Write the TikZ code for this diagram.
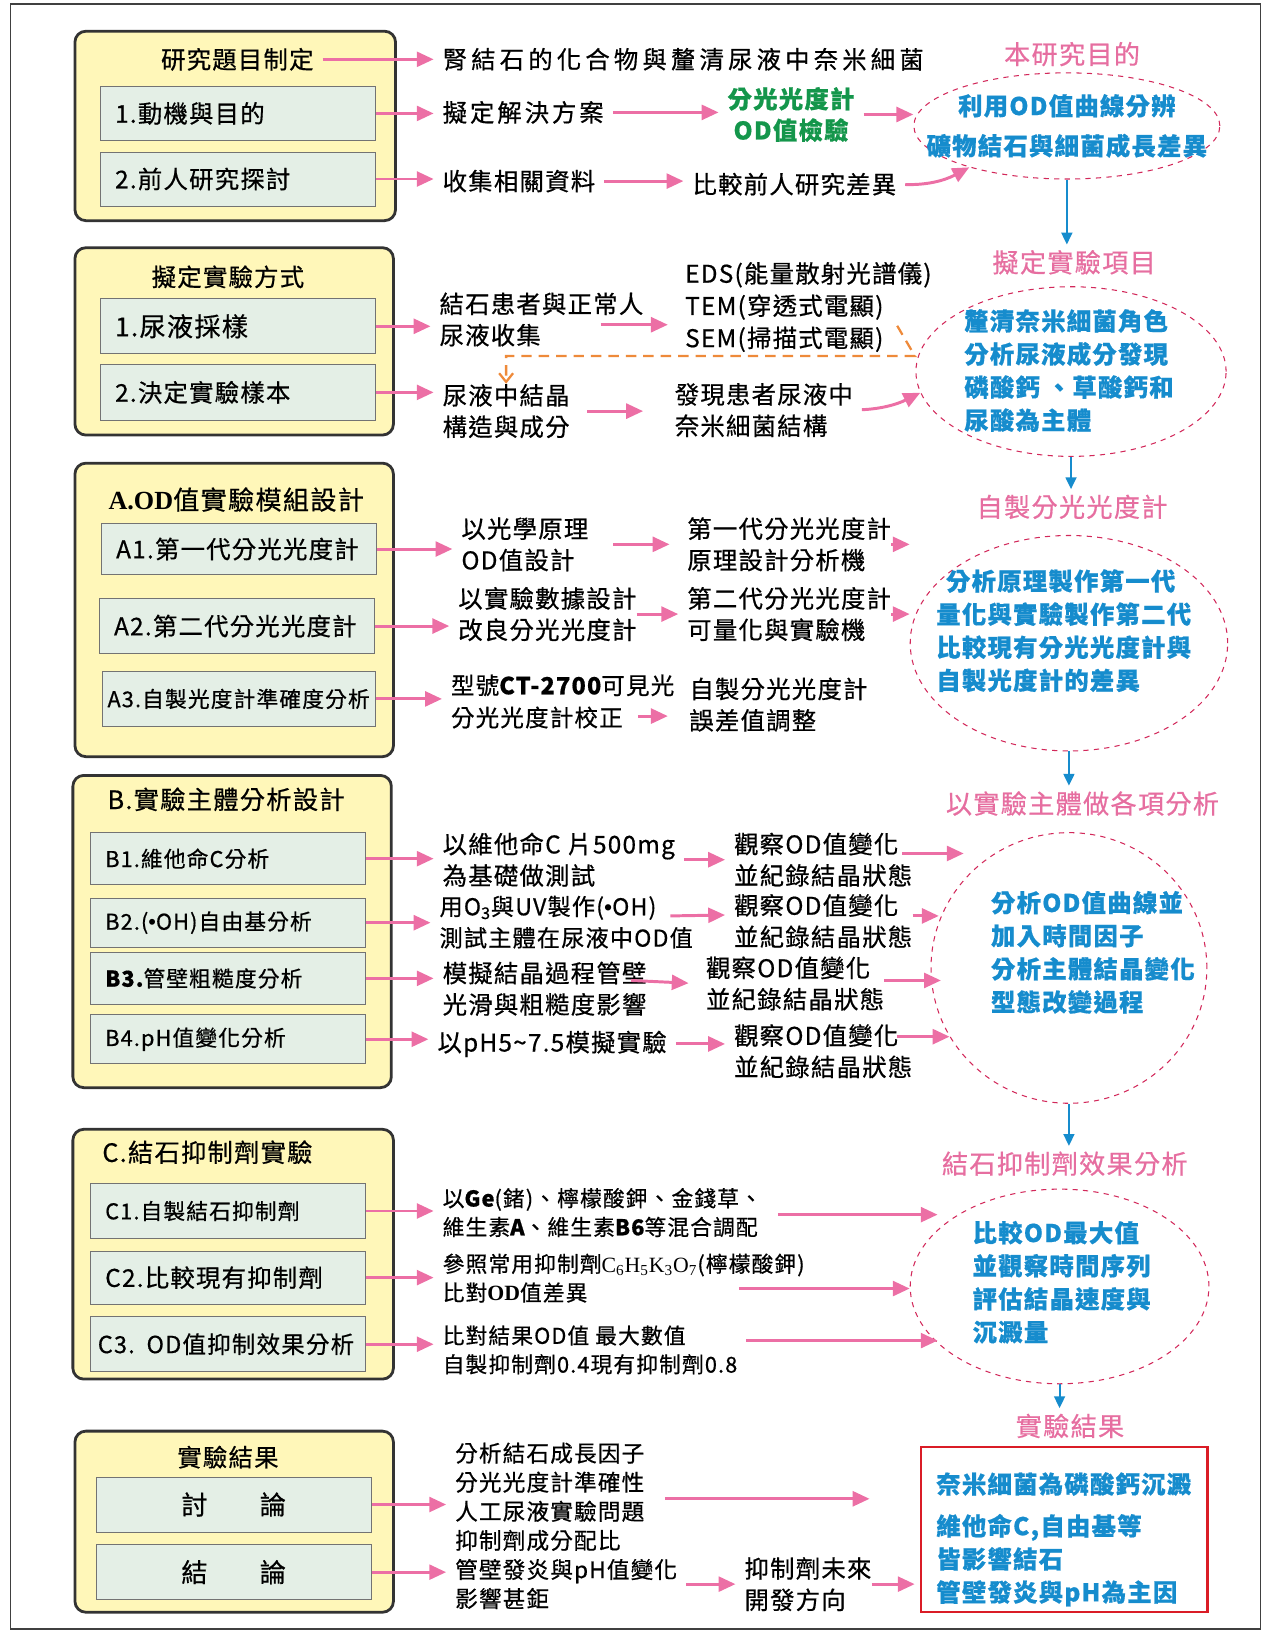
\documentclass[tikz,border=0pt]{standalone}
\usepackage{fontspec}
\setmainfont{Noto Sans CJK TC}[LetterSpace=5, FakeBold=0.6]
\newfontfamily\serifbf{Liberation Serif}
\newfontfamily\latinsans{Liberation Sans}
\usetikzlibrary{arrows.meta,shapes.geometric,calc}

\definecolor{arrowpink}{RGB}{236,111,165}
\definecolor{titlepink}{RGB}{230,110,160}
\definecolor{ovalred}{RGB}{210,40,90}
\definecolor{textblue}{RGB}{22,140,205}
\definecolor{okgreen}{RGB}{20,150,75}
\definecolor{grpyellow}{RGB}{255,247,185}
\definecolor{subgreen}{RGB}{228,239,230}
\definecolor{dashorange}{RGB}{238,138,58}
\definecolor{boxred}{RGB}{218,28,38}

\newcommand\szA{\fontsize{14}{18}\selectfont}
\newcommand\szB{\fontsize{12.5}{16.5}\selectfont}
\newcommand\szT{\fontsize{15}{19}\selectfont}
\newcommand\szE{\fontsize{14}{19}\selectfont}
\newcommand\dotOH{({\latinsans\textbullet}OH)}

\begin{document}
\begin{tikzpicture}[x=0.021cm, y=-0.021cm,
    dims/.style 2 args={minimum width=#1*0.021cm, minimum height=#2*0.021cm},
    grp/.style 2 args={draw=black!80, line width=1.6pt, fill=grpyellow, rounded corners=0.22cm, dims={#1}{#2}},
    sub/.style={draw=black!55, line width=0.5pt, fill=subgreen, inner xsep=0.3cm, inner ysep=0pt, text width=4.95cm, align=left, font=\szA},
    hgt/.style={minimum height=#1*0.021cm},
    txt/.style={anchor=west, inner sep=0pt, align=left, font=\szA},
    ptitle/.style={text=titlepink, font=\szT, inner sep=0pt},
    oval/.style 2 args={ellipse, draw=ovalred, dashed, line width=0.6pt, dims={#1}{#2}, inner sep=0pt},
    otext/.style={text=textblue, font=\szE\bfseries, align=left, inner sep=0pt},
    parrow/.style={-{Triangle[length=0.34cm,width=0.3cm]}, draw=arrowpink, line width=1.7pt, shorten >=5pt},
    barrow/.style={-{Triangle[length=0.24cm,width=0.22cm]}, draw=textblue, line width=1.2pt, shorten >=3pt},
    odash/.style={draw=dashorange, line width=1.3pt, dash pattern=on 6pt off 4pt},
    gap/.style={shorten <=5pt}
]
\useasboundingbox (0,0) rectangle (1216,1568);
\draw[black!75, line width=0.8pt] (10,4) rectangle (1211,1565);

% Research topic
\node[grp={308}{182}] (g1) at (226,121) {};
\node[font=\szA, inner sep=0pt] (g1t) at (228,57) {研究題目制定};
\node[sub, hgt=52] (s11) at (228.5,109) {1.動機與目的};
\node[sub, hgt=52] (s12) at (228.5,172) {2.前人研究探討};

\node[txt, font=\szA\addfontfeature{LetterSpace=17}] (r11) at (425,57) {腎結石的化合物與釐清尿液中奈米細菌};
\node[txt, font=\szA\addfontfeature{LetterSpace=12}] (r12) at (425,108) {擬定解決方案};
\node[align=center, text=okgreen, font=\szA\bfseries, inner sep=0pt] (r13) at (760,110) {分光光度計\\OD值檢驗};
\node[txt] (r14) at (425,174) {收集相關資料};
\node[txt] (r15) at (665,177) {比較前人研究差異};

\node[ptitle] (p1) at (1030,52) {本研究目的};
\node[oval={294}{102}] (e1) at (1025,121) {};
\node[otext, align=center] (e1t) at (e1) {利用OD值曲線分辨\\[4pt]礦物結石與細菌成長差異};

\draw[parrow, gap] (g1t.east) -- (g1t.east -| r11.west);
\draw[parrow] (s11.east) -- (s11.east -| r12.west);
\draw[parrow, gap] (r12.east) -- (r12.east -| r13.west);
\draw[parrow, gap, shorten >=0pt] (r13.east) -- (r13.east -| e1.west);
\draw[parrow] (s12.east) -- (s12.east -| r14.west);
\draw[parrow, gap] (r14.east) -- (r14.east -| r15.west);
\draw[parrow, gap, shorten >=0pt] (r15.east) to[bend right=15] (e1.203);

% Experiment method
\node[grp={306}{180}] (g2) at (225,328) {};
\node[font=\szA, inner sep=0pt] (g2t) at (219,266) {擬定實驗方式};
\node[sub, hgt=53, font=\fontsize{15}{18}\selectfont] (s21) at (228.5,313.5) {1.尿液採樣};
\node[sub, hgt=53] (s22) at (228.5,377) {2.決定實驗樣本};

\node[txt] (r21) at (422,307) {結石患者與正常人\\尿液收集};
\node[txt, font=\fontsize{14}{18.5}\selectfont] (r22) at (658,295) {EDS(能量散射光譜儀)\\TEM(穿透式電顯)\\SEM(掃描式電顯)};
\node[txt] (r23) at (425,395) {尿液中結晶\\構造與成分};
\node[txt] (r24) at (648,394) {發現患者尿液中\\奈米細菌結構};

\node[ptitle] (p2) at (1032,252) {擬定實驗項目};
\node[oval={298}{163}] (e2) at (1029,357) {};
\node[otext] (e2t) at (1027,356) {釐清奈米細菌角色\\分析尿液成分發現\\磷酸鈣 、草酸鈣和\\尿酸為主體};

\coordinate (o1) at (862,313);
\coordinate (o2) at (879,342);

\draw[parrow] (s21.east) -- (s21.east -| r21.west);
\draw[parrow] ($(r21.west)+(155,5)$) -- ($(r22.west)+(-8,17)$);
\draw[odash, -{Straight Barb[length=5pt,width=8pt]}] (o1) -- (o2) -- (o2 -| r23.north) -- (r23.north);
\draw[parrow] (s22.east) -- (s22.east -| r23.west);
\draw[parrow, shorten <=10pt, shorten >=18pt] (r23.east) -- (r23.east -| r24.west);
\draw[parrow, gap, shorten >=0pt] (r24.east) to[bend right=12] (e2.188);

% A. OD module
\node[grp={306}{282}] (gA) at (225,586) {};
\node[font=\fontsize{15}{18}\selectfont, inner sep=0pt] (gAt) at (227,480) {{\serifbf\bfseries A.OD}值實驗模組設計};
\node[sub, hgt=49] (sA1) at (229.5,527.5) {A1.第一代分光光度計};
\node[sub, hgt=53] (sA2) at (227.5,601.5) {A2.第二代分光光度計};
\node[sub, hgt=53, font=\szB, inner xsep=0.1cm, text width=5.3cm] (sA3) at (229.5,671.5) {A3.自製光度計準確度分析};

\node[txt] (rA1) at (443,523) {以光學原理\\OD值設計};
\node[txt] (rA2) at (660,523) {第一代分光光度計\\原理設計分析機};
\node[txt] (rA3) at (440,590) {以實驗數據設計\\改良分光光度計};
\node[txt] (rA4) at (660,590) {第二代分光光度計\\可量化與實驗機};
\node[txt, font=\fontsize{13.5}{18.5}\selectfont] (rA5) at (433,674) {型號{\bfseries CT-2700}可見光\\分光光度計校正};
\node[txt] (rA6) at (662,677) {自製分光光度計\\誤差值調整};

\node[ptitle] (p3) at (1030,487) {自製分光光度計};
\node[oval={305}{207}] (e3) at (1027,618) {};
\node[otext] (e3t) at (1022,606) {\hspace*{0.4em}分析原理製作第一代\\量化與實驗製作第二代\\比較現有分光光度計與\\自製光度計的差異};

\draw[parrow] (sA1.east) -- (sA1.east -| rA1.west);
\draw[parrow, shorten <=14pt, shorten >=10pt] (rA1.east) -- (rA1.east -| rA2.west);
\draw[parrow, shorten >=0pt] (rA2.east) -- (rA2.east -| e3.west);
\draw[parrow] (sA2.east) -- (sA2.east -| rA3.west);
\draw[parrow] (rA3.east) -- (rA3.east -| rA4.west);
\draw[parrow, shorten >=0pt] (rA4.east) -- (rA4.east -| e3.west);
\draw[parrow] (sA3.east) -- (sA3.east -| rA5.west);
\draw[parrow] ($(rA5.west)+(180,14)$) -- ($(rA6.west)+(-12,11)$);

% B. subject analysis
\node[grp={306}{300}] (gB) at (223,895) {};
\node[txt, font=\fontsize{14.5}{18}\selectfont] (gBt) at (103,768) {B.實驗主體分析設計};
\node[sub, hgt=50, font=\szB] (sB1) at (219,825) {B1.維他命C分析};
\node[sub, hgt=47, font=\szB] (sB2) at (219,886.5) {B2.\dotOH 自由基分析};
\node[sub, hgt=50, font=\szB] (sB3) at (219,940) {{\bfseries B3.}管壁粗糙度分析};
\node[sub, hgt=47, font=\szB] (sB4) at (219,998.5) {B4.pH值變化分析};

\node[txt] (rB1) at (425,826) {以維他命C 片500mg\\為基礎做測試};
\node[txt] (rB2) at (705,826) {觀察OD值變化\\並紀錄結晶狀態};
\node[txt, font=\fontsize{13.3}{18}\selectfont] (rB3) at (422,886) {用O\textsubscript{3}與UV製作\dotOH\\測試主體在尿液中OD值};
\node[txt] (rB4) at (705,885) {觀察OD值變化\\並紀錄結晶狀態};
\node[txt] (rB5) at (425,950) {模擬結晶過程管壁\\光滑與粗糙度影響};
\node[txt] (rB6) at (678,945) {觀察OD值變化\\並紀錄結晶狀態};
\node[txt] (rB7) at (420,1003) {以pH5\textasciitilde7.5模擬實驗};
\node[txt] (rB8) at (705,1010) {觀察OD值變化\\並紀錄結晶狀態};

\node[ptitle] (p4) at (1040,772) {以實驗主體做各項分析};
\node[oval={265}{260}] (e4) at (1027,930) {};
\node[otext] (e4t) at (1050,915) {分析OD值曲線並\\加入時間因子\\分析主體結晶變化\\型態改變過程};

\draw[parrow] (sB1.east) -- (sB1.east -| rB1.west);
\draw[parrow, gap] (rB1.east) -- (rB1.east -| rB2.west);
\draw[parrow, shorten >=0pt] ($(rB2.east)+(-10,-6)$) -- ($(rB2.east -| e4.140)+(0,-6)$);
\draw[parrow] (sB2.east) -- (sB2.east -| rB3.west);
\draw[parrow] ($(rB3.west)+(222,-6)$) -- ($(rB4.west)+(0,-6)$);
\draw[parrow, shorten >=0pt] ($(rB4.east)+(0,-5)$) -- ($(rB4.east -| e4.west)+(8,-5)$);
\draw[parrow] (sB3.east) -- (sB3.east -| rB5.west);
\draw[parrow] ($(rB5.east)+(-15,-8)$) -- ($(rB5.east -| rB6.west)+(-8,-5)$);
\draw[parrow, shorten >=0pt] ($(rB6.east)+(0,-3)$) -- ($(rB6.east -| e4.west)+(10,-3)$);
\draw[parrow] (sB4.east) -- (sB4.east -| rB7.west);
\draw[parrow, gap] (rB7.east) -- (rB7.east -| rB8.west);
\draw[parrow, shorten >=0pt] ($(rB8.east)+(-15,-14)$) -- ($(rB8.east -| e4.200)+(10,-14)$);

% C. inhibitor experiment
\node[grp={308}{240}] (gC) at (224,1205) {};
\node[txt, font=\fontsize{14.5}{18}\selectfont] (gCt) at (98,1107) {C.結石抑制劑實驗};
\node[sub, hgt=53, font=\szB] (sC1) at (219,1163.5) {C1.自製結石抑制劑};
\node[sub, hgt=51] (sC2) at (219,1227.5) {C2.比較現有抑制劑};
\node[sub, hgt=53, font=\fontsize{13.5}{16}\selectfont, inner xsep=0.15cm, text width=5.25cm] (sC3) at (219,1291.5) {\mbox{C3. OD值抑制效果分析}};

\node[txt, font=\szB] (rC1) at (425,1165) {以{\bfseries Ge}(鍺)、檸檬酸鉀、金錢草、\\維生素{\bfseries A}、維生素{\bfseries B6}等混合調配};
\node[txt, font=\szB] (rC2) at (425,1228) {參照常用抑制劑{\serifbf C\textsubscript{6}H\textsubscript{5}K\textsubscript{3}O\textsubscript{7}}(檸檬酸鉀)\\比對{\serifbf\bfseries OD}值差異};
\node[txt, font=\szB] (rC3) at (425,1297) {比對結果OD值 最大數值\\自製抑制劑0.4現有抑制劑0.8};

\node[ptitle] (p5) at (1023,1118) {結石抑制劑效果分析};
\node[oval={287}{187}] (e5) at (1018,1236) {};
\node[otext] (e5t) at (1020,1232) {比較OD最大值\\並觀察時間序列\\評估結晶速度與\\沉澱量};

\draw[parrow] (sC1.east) -- (sC1.east -| rC1.west);
\draw[parrow] (sC2.east) -- (sC2.east -| rC2.west);
\draw[parrow] (sC3.east) -- (sC3.east -| rC3.west);
\draw[parrow, shorten >=0pt] ($(rC1.east)+(15,2)$) -- ($(rC1.east -| e5.155)+(0,2)$);
\draw[parrow, shorten >=0pt] ($(rC2.west)+(285,10)$) -- ($(rC2.west -| e5.west)+(0,10)$);
\draw[parrow, shorten >=0pt] ($(rC3.west)+(292,-9)$) -- ($(rC3.west -| e5.205)+(0,-9)$);

% Results
\node[grp={306}{174}] (gR) at (225,1462) {};
\node[font=\szA, inner sep=0pt] (gRt) at (219,1400) {實驗結果};
\node[sub, hgt=53, align=center, font=\fontsize{15}{18}\selectfont] (sR1) at (224.5,1445.5) {討\hspace{2em}論};
\node[sub, hgt=53, align=center, font=\fontsize{15}{18}\selectfont] (sR2) at (224.5,1510.5) {結\hspace{2em}論};

\node[txt, font=\fontsize{13}{16.7}\selectfont] (rR1) at (437,1466) {分析結石成長因子\\分光光度計準確性\\人工尿液實驗問題\\抑制劑成分配比\\管壁發炎與pH值變化\\影響甚鉅};
\node[txt] (rR2) at (715,1522) {抑制劑未來\\開發方向};

\node[ptitle] (p6) at (1028,1370) {實驗結果};
\node[draw=boxred, line width=1.4pt, dims={275}{159}, inner sep=0pt] (rb) at (1022.5,1469.5) {};
\node[otext] (rbt) at (1022,1479) {奈米細菌為磷酸鈣沉澱\\[5pt]維他命C,自由基等\\皆影響結石\\管壁發炎與pH為主因};

\draw[parrow] (sR1.east) -- (sR1.east -| rR1.west);
\draw[parrow] (sR2.east) -- (sR2.east -| rR1.west);
\draw[parrow] ($(rR1.east)+(-12,-26)$) -- ($(rR1.east -| rb.west)+(-40,-26)$);
\draw[parrow, gap] (rR1.east |- rR2.west) -- (rR2.west);
\draw[parrow, shorten >=3pt] (rR2.east) -- (rR2.east -| rb.west);

% Flow down the right column
\draw[barrow] (e1.south) -- (e1.south |- p2.north);
\draw[barrow] (e2.south) -- (e2.south |- p3.north);
\draw[barrow] (e3.south) -- (e3.south |- p4.north);
\draw[barrow] (e4.south) -- (e4.south |- p5.north);
\draw[barrow] (e5.south) -- (e5.south |- p6.north);

\end{tikzpicture}
\end{document}
